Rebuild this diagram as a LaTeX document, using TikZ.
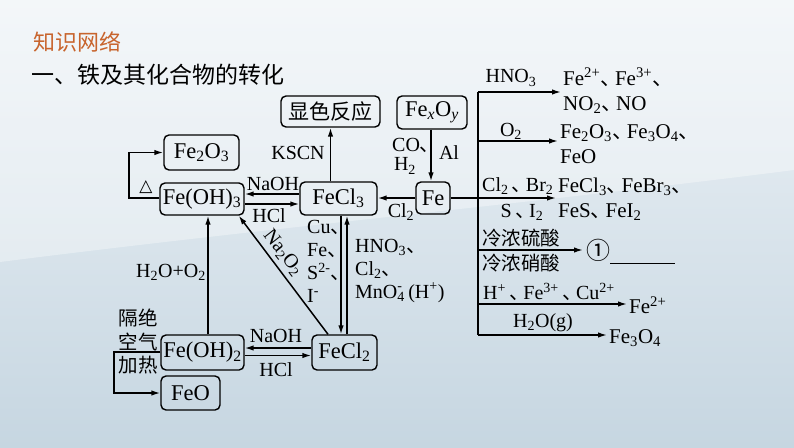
\documentclass[tikz,border=0pt]{standalone}
\usepackage{fontspec}
\setmainfont{Liberation Serif}
\newfontfamily\cjk{Noto Sans CJK SC}
\newfontfamily\symf{DejaVu Sans}
\usetikzlibrary{arrows.meta}
\newcommand\dn{\makebox[0.7em][l]{\cjk 、}}
\newcommand\sbs[1]{\textsubscript{#1}}
\newcommand\sps[1]{\textsuperscript{#1}}
\newcommand\sbsp[2]{\rlap{\textsuperscript{#2}}\textsubscript{#1}}
\definecolor{bgtop}{HTML}{EEF3F7}
\definecolor{bgbot}{HTML}{C6D6E1}
\definecolor{titleor}{RGB}{200,100,45}
\begin{document}
\begin{tikzpicture}[x=1pt,y=-1pt,
  box/.style={draw, line width=1.4pt, rounded corners=5pt, inner sep=0pt, font=\fontsize{22.5}{25}\selectfont},
  lbl/.style={inner sep=0pt, font=\fontsize{20}{23}\selectfont},
  cjklbl/.style={inner sep=0pt, font=\cjk\fontsize{19.5}{23}\selectfont},
  prod/.style={inner sep=0pt, inner xsep=2pt, anchor=west, align=left, font=\fontsize{21}{25}\selectfont},
  arr/.style={line width=1.5pt, -{Latex[length=9pt,width=5.5pt]}},
  ln/.style={line width=1.5pt}]
% background
\shade[top color=bgtop, bottom color=bgbot] (0,0) rectangle (794,447);
\fill[white, opacity=0.35] (0,0) -- (794,0) -- (794,170) .. controls (560,200) and (250,230) .. (0,262) -- cycle;
\useasboundingbox (0,0) rectangle (794,447);
% titles
\node[anchor=west, inner sep=0pt, text=titleor, font=\cjk\fontsize{22}{24}\selectfont] (t1) at (33,42) {知识网络};
\node[anchor=west, inner sep=0pt, font=\cjk\fontsize{23}{25}\selectfont] (t2) at (31,75) {一、铁及其化合物的转化};
% boxes
\node[box, minimum width=99pt, minimum height=31pt, font=\cjk\fontsize{21}{24}\selectfont] (xs) at (330.5,111.5) {显色反应};
\node[box, minimum width=70pt, minimum height=33pt] (fexoy) at (432,112.5) {Fe\textsubscript{\textit{x}}O\textsubscript{\textit{y}}};
\node[box, minimum width=75pt, minimum height=35pt] (fe2o3) at (201.5,152.5) {Fe\sbs2O\sbs3};
\node[box, minimum width=84pt, minimum height=32pt] (feoh3) at (202,199) {Fe(OH)\sbs3};
\node[box, minimum width=77pt, minimum height=33pt] (fecl3) at (338.5,198.5) {FeCl\sbs3};
\node[box, minimum width=34pt, minimum height=32pt] (fe) at (433,198) {Fe};
\node[box, minimum width=83pt, minimum height=35pt] (feoh2) at (202.5,352.5) {Fe(OH)\sbs2};
\node[box, minimum width=65pt, minimum height=35pt] (fecl2) at (344.5,352.5) {FeCl\sbs2};
\node[box, minimum width=59pt, minimum height=34pt] (feo) at (190.5,393) {FeO};
% Fe(OH)3 <-> FeCl3
\draw[arr] (fecl3.west |- 0,194) -- (feoh3.east |- 0,194);
\draw[arr] (feoh3.east |- 0,204) -- (fecl3.west |- 0,204);
\node[lbl] (l1) at (273,184) {NaOH};
\node[lbl] (l2) at (269,216) {HCl};
% Fe(OH)3 -> Fe2O3
\draw[arr] (feoh3.west |- 0,198) -- (129,198) -- (129,152.5) -- (fe2o3.west);
\node[inner sep=0pt, font=\symf\fontsize{17}{20}\selectfont] (l3) at (146,187) {△};
% KSCN
\draw[arr] (fecl3.north -| xs.south) -- (xs.south);
\node[lbl] (l4) at (298,153) {KSCN};
% FexOy -> Fe
\draw[arr] (fexoy.south -| 431,0) -- (fe.north -| 431,0);
\node[lbl, anchor=west] (l5) at (392,145) {CO\dn};
\node[lbl] (l6) at (405,166) {H\sbs2};
\node[lbl] (l7) at (449,153) {Al};
% Fe -> FeCl3
\draw[arr] (fe.west) -- (fecl3.east |- fe.west);
\node[lbl] (l8) at (401,212) {Cl\sbs2};
% right branch
\node[prod] (p1) at (561,90.5) {Fe\sps{2+}\dn Fe\sps{3+}\dn\\NO\sbs2\dn NO};
\node[prod] (p2) at (558,144.5) {Fe\sbs2O\sbs3\dn Fe\sbs3O\sbs4\dn\\FeO};
\node[prod] (p3) at (556,199) {FeCl\sbs3\dn FeBr\sbs3\dn\\FeS\dn FeI\sbs2};
\node[inner sep=0pt, inner xsep=3pt, anchor=west, font=\cjk\fontsize{24}{26}\selectfont] (p4) at (583,250) {①};
\node[prod] (p5) at (627,305) {Fe\sps{2+}};
\node[prod] (p6) at (607,338) {Fe\sbs3O\sbs4};
\coordinate (vt) at (478,92);
\coordinate (vb) at (478,335);
\draw[ln] (vt) -- (vb);
\draw[arr] (vt) -- (p1.west |- vt);
\draw[arr] (478,141) -- (p2.west |- 0,141);
\draw[arr] (fe.east) -- (p3.west |- fe.east);
\draw[arr] (478,250) -- (p4.west |- 0,250);
\draw[arr] (478,304) -- (p5.west |- 0,304);
\draw[arr] (vb) -- (p6.west |- vb);
\draw[line width=1pt] (610,263) -- (675,263);
\node[lbl] (r1) at (511,78) {HNO\sbs3};
\node[lbl] (r2) at (511,131) {O\sbs2};
\node[lbl, anchor=west] (r3) at (482,186) {Cl\sbs2\,\dn Br\sbs2};
\node[lbl] (r4) at (522,212) {S\,\dn I\sbs2};
\node[cjklbl] (r5) at (521,238) {冷浓硫酸};
\node[cjklbl] (r6) at (521,263) {冷浓硝酸};
\node[lbl, anchor=west] (r7) at (483,292) {H\sps{+}\,\dn Fe\sps{3+}\,\dn Cu\sps{2+}};
\node[lbl] (r8) at (543,323) {H\sbs2O(g)};
% Fe(OH)2 -> Fe(OH)3
\draw[arr] (feoh2.north -| 208,0) -- (feoh3.south -| 208,0);
\node[lbl] (l9) at (171,272) {H\sbs2O+O\sbs2};
% FeCl2 -> Fe(OH)3 (Na2O2)
\draw[arr] ([xshift=-16.5pt]fecl2.north) -- ([xshift=-6pt]feoh3.south east);
\node[lbl, rotate=-52] (l10) at (283,253) {Na\sbs2O\sbs2};
% FeCl3 <-> FeCl2
\draw[arr] (fecl3.south -| 341,0) -- (fecl2.north -| 341,0);
\draw[arr] (fecl2.north -| 347,0) -- (fecl3.south -| 347,0);
\node[lbl, anchor=west, align=left] (l11) at (307,261.5) {Cu\dn\\Fe\dn\\S\sps{2-}\dn\\I\sps{-}};
\node[lbl, anchor=west, align=left] (l12) at (355,271) {HNO\sbs3\dn\\Cl\sbs2\dn\\MnO\sbsp{4}{-}\,(H\sps{+})};
% Fe(OH)2 <-> FeCl2
\draw[arr] (fecl2.west |- 0,348) -- (feoh2.east |- 0,348);
\draw[arr] (feoh2.east |- 0,355.5) -- (fecl2.west |- 0,355.5);
\node[lbl] (l13) at (276,336) {NaOH};
\node[lbl] (l14) at (276,370) {HCl};
% Fe(OH)2 -> FeO
\draw[arr] (feoh2.west |- 0,352) -- (114,352) -- (114,393) -- (feo.west);
\node[cjklbl] (l15) at (138,318) {隔绝};
\node[cjklbl] (l16) at (138,342) {空气};
\node[cjklbl] (l17) at (138,365) {加热};
\end{tikzpicture}
\end{document}
